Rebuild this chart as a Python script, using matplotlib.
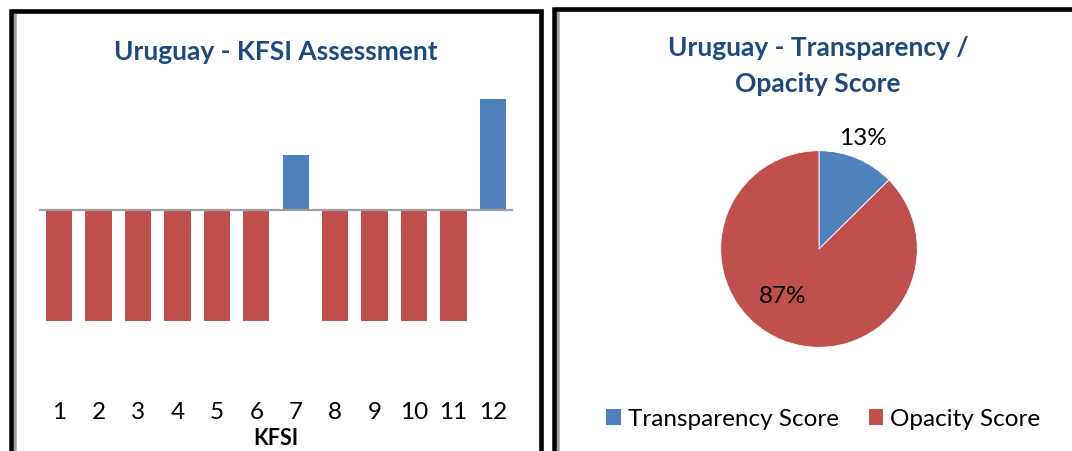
import matplotlib
matplotlib.use("Agg")
import matplotlib.pyplot as plt
from matplotlib.patches import Rectangle, Patch

# ---- data ----
kfsi_labels = ["1", "2", "3", "4", "5", "6", "7", "8", "9", "10", "11", "12"]
kfsi_values = [-1, -1, -1, -1, -1, -1, 0.5, -1, -1, -1, -1, 1]
pie_labels = ["Transparency Score", "Opacity Score"]
pie_values = [12.6, 87.4]

BLUE = "#4F81BD"
RED = "#C0504D"
TITLE = "#1F497D"
FONT = "Lato"

W, H = 1072, 452
fig = plt.figure(figsize=(W / 100, H / 100), dpi=100)
plt.rcParams["font.family"] = [FONT, "DejaVu Sans"]


def px_box(x0, y0, x1, y1):
    return [x0 / W, 1 - y1 / H, (x1 - x0) / W, (y1 - y0) / H]


# ---- panel borders ----
lw = 4.5 * 72 / 100
fig.patches.append(Rectangle((13.5 / W, 1 - 500 / H), (540.5 - 13.5) / W, (500 - 12) / H,
                             transform=fig.transFigure, fill=False, ec="#A0A0A0", lw=lw, zorder=0))
fig.patches.append(Rectangle((11 / W, 1 - 500 / H), (540.5 - 11) / W, (500 - 12) / H,
                             transform=fig.transFigure, fill=False, ec="black", lw=lw, zorder=1))
fig.patches.append(Rectangle((556.5 / W, 1 - 500 / H), 600 / W, (500 - 10) / H,
                             transform=fig.transFigure, fill=False, ec="#A0A0A0", lw=lw, zorder=0))
fig.patches.append(Rectangle((554 / W, 1 - 500 / H), 600 / W, (500 - 10) / H,
                             transform=fig.transFigure, fill=False, ec="black", lw=lw, zorder=1))

# ---- left: bar chart ----
y_top, y_bot = 1.05, -1.7
zero_px, unit_px = 211, 111
ax = fig.add_axes(px_box(39.3, zero_px - y_top * unit_px, 512.7, zero_px - y_bot * unit_px))
x = list(range(1, len(kfsi_values) + 1))
colors = [BLUE if v > 0 else RED for v in kfsi_values]
ax.bar(x, kfsi_values, width=0.667, color=colors, zorder=2)
ax.axhline(0, color="#A0A0A0", lw=1.6, zorder=3)
ax.set_xlim(0.5, 12.5)
ax.set_ylim(y_bot, y_top)
ax.set_xticks(x)
ax.set_xticklabels(kfsi_labels, fontsize=17.5)
ax.tick_params(axis="x", length=0, pad=1.5)
ax.set_yticks([])
for s in ax.spines.values():
    s.set_visible(False)
ax.set_xlabel("KFSI", fontsize=15.5, fontweight="bold", labelpad=3.5)
ax.patch.set_alpha(0)
fig.text(276 / W, 1 - 52 / H, "Uruguay - KFSI Assessment", ha="center", va="center",
         fontsize=19, fontweight="bold", color=TITLE)

# ---- right: pie ----
cx, cy, r = 819, 250, 98.3
pax = fig.add_axes(px_box(cx - r, cy - r, cx + r, cy + r))
wedges, texts, autotexts = pax.pie(
    pie_values, colors=[BLUE, RED], startangle=90, counterclock=False,
    autopct=lambda p: f"{int(p + 0.5)}%", pctdistance=1.22,
    wedgeprops=dict(linewidth=0.6, edgecolor="white"),
    textprops=dict(fontsize=17.5, color="black"))
pax.set_xlim(-1, 1)
pax.set_ylim(-1, 1)
pax.set_aspect("equal")
autotexts[0].set_position(((863 - cx) / r, (cy - 138) / r))
autotexts[1].set_position(((783 - cx) / r, (cy - 297) / r))
for t in autotexts:
    t.set_ha("center")
    t.set_va("center")

fig.text(818 / W, 1 - 66 / H, "Uruguay - Transparency /\nOpacity Score", ha="center",
         va="center", fontsize=19, fontweight="bold", color=TITLE, linespacing=1.62)

handles = [Patch(facecolor=BLUE, edgecolor="none"), Patch(facecolor=RED, edgecolor="none")]
fig.legend(handles, pie_labels, loc="center", bbox_to_anchor=(823.5 / W, 1 - 420 / H),
           ncol=2, frameon=False, fontsize=17.5, handlelength=0.6, handleheight=0.6,
           handletextpad=0.3, columnspacing=1.2, borderpad=0)

fig.savefig("out.png", dpi=100)
